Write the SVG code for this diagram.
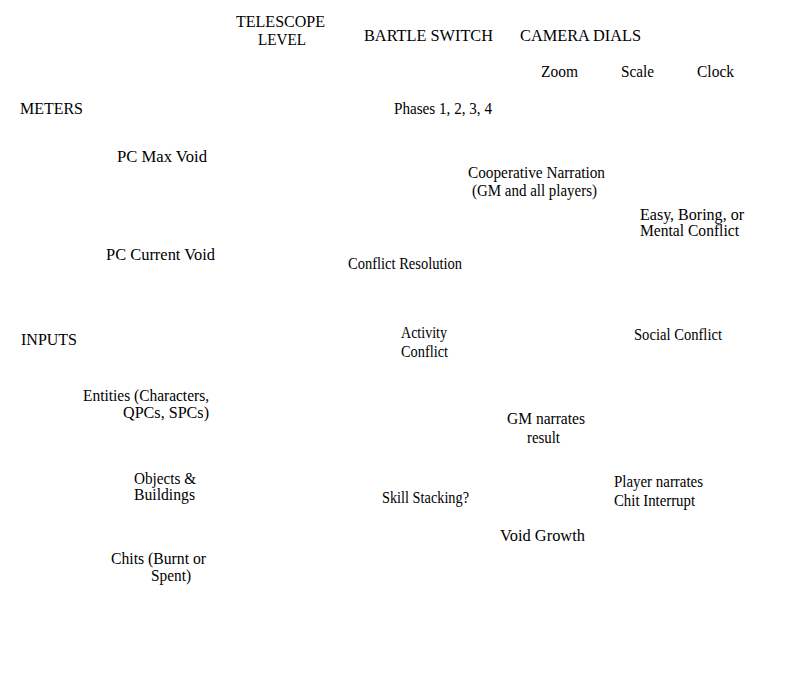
<svg xmlns="http://www.w3.org/2000/svg" width="792" height="675" viewBox="0 0 792 675">
<style>
text{font-family:"Liberation Serif","Times New Roman",serif;font-size:16px;fill:#000}
</style>
<rect width="792" height="675" fill="#fff"/>
<g id="connectors"></g>
<g id="telescope"><text x="236" y="27" textLength="89" lengthAdjust="spacingAndGlyphs">TELESCOPE</text><text x="258" y="45" textLength="48" lengthAdjust="spacingAndGlyphs">LEVEL</text></g>
<g id="bartle"><text x="364" y="41" textLength="129" lengthAdjust="spacingAndGlyphs">BARTLE SWITCH</text></g>
<g id="camera"><text x="520" y="41" textLength="121" lengthAdjust="spacingAndGlyphs">CAMERA DIALS</text></g>
<g id="zoom"><text x="541" y="77" textLength="37" lengthAdjust="spacingAndGlyphs">Zoom</text></g>
<g id="scale"><text x="621" y="77" textLength="33" lengthAdjust="spacingAndGlyphs">Scale</text></g>
<g id="clock"><text x="697" y="77" textLength="37" lengthAdjust="spacingAndGlyphs">Clock</text></g>
<g id="meters"><text x="20" y="114" textLength="63" lengthAdjust="spacingAndGlyphs">METERS</text></g>
<g id="phases"><text x="394" y="114" textLength="98" lengthAdjust="spacingAndGlyphs">Phases 1, 2, 3, 4</text></g>
<g id="pcmax"><text x="117" y="162" textLength="90" lengthAdjust="spacingAndGlyphs">PC Max Void</text></g>
<g id="coop"><text x="468" y="178" textLength="137" lengthAdjust="spacingAndGlyphs">Cooperative Narration</text><text x="472" y="196" textLength="125" lengthAdjust="spacingAndGlyphs">(GM and all players)</text></g>
<g id="easy"><text x="640" y="220" textLength="104" lengthAdjust="spacingAndGlyphs">Easy, Boring, or</text><text x="640" y="236" textLength="99" lengthAdjust="spacingAndGlyphs">Mental Conflict</text></g>
<g id="pccur"><text x="106" y="260" textLength="109" lengthAdjust="spacingAndGlyphs">PC Current Void</text></g>
<g id="resolution"><text x="348" y="269" textLength="114" lengthAdjust="spacingAndGlyphs">Conflict Resolution</text></g>
<g id="inputs"><text x="21" y="345" textLength="56" lengthAdjust="spacingAndGlyphs">INPUTS</text></g>
<g id="activity"><text x="401" y="338" textLength="46" lengthAdjust="spacingAndGlyphs">Activity</text><text x="401" y="357" textLength="47" lengthAdjust="spacingAndGlyphs">Conflict</text></g>
<g id="social"><text x="634" y="340" textLength="88" lengthAdjust="spacingAndGlyphs">Social Conflict</text></g>
<g id="entities"><text x="83" y="401" textLength="126" lengthAdjust="spacingAndGlyphs">Entities (Characters,</text><text x="123" y="418" textLength="86" lengthAdjust="spacingAndGlyphs">QPCs, SPCs)</text></g>
<g id="gmnarr"><text x="507" y="424" textLength="78" lengthAdjust="spacingAndGlyphs">GM narrates</text><text x="527" y="443" textLength="33" lengthAdjust="spacingAndGlyphs">result</text></g>
<g id="objects"><text x="134" y="484" textLength="62" lengthAdjust="spacingAndGlyphs">Objects &amp;</text><text x="134" y="500" textLength="61" lengthAdjust="spacingAndGlyphs">Buildings</text></g>
<g id="player"><text x="614" y="487" textLength="89" lengthAdjust="spacingAndGlyphs">Player narrates</text><text x="614" y="506" textLength="81" lengthAdjust="spacingAndGlyphs">Chit Interrupt</text></g>
<g id="skill"><text x="382" y="503" textLength="87" lengthAdjust="spacingAndGlyphs">Skill Stacking?</text></g>
<g id="void"><text x="500" y="541" textLength="85" lengthAdjust="spacingAndGlyphs">Void Growth</text></g>
<g id="chits"><text x="111" y="564" textLength="95" lengthAdjust="spacingAndGlyphs">Chits (Burnt or</text><text x="151" y="581" textLength="40" lengthAdjust="spacingAndGlyphs">Spent)</text></g>
</svg>
